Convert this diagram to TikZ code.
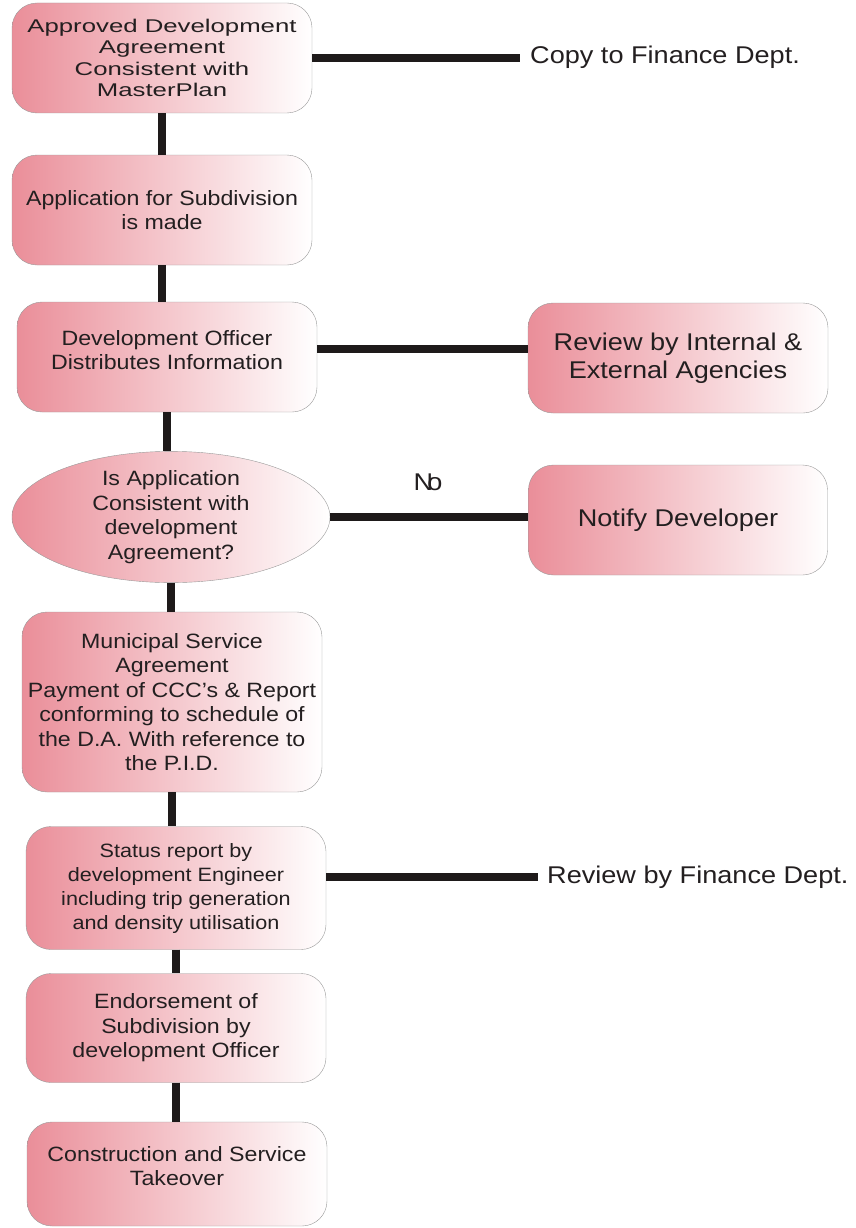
\documentclass[tikz,border=0pt]{standalone}
\usepackage{fontspec}
\setmainfont[FakeStretch=1.12]{Liberation Sans}
\newfontfamily\widefont[FakeStretch=1.4]{Liberation Sans}
\usepackage{tikz}
\usetikzlibrary{shapes.geometric}

\definecolor{stagepink}{RGB}{234,142,153}
\definecolor{linkdark}{RGB}{30,26,26}
\definecolor{textdark}{RGB}{35,31,32}

\tikzset{
    stage/.style={draw=gray!80, rounded corners=25pt, left color=stagepink, right color=white,
        minimum width=300pt, minimum height=110pt, inner sep=0pt, align=center,
        text=textdark, font=\fontsize{20.7}{24.5}\selectfont},
    query/.style={stage, ellipse, rounded corners=0pt, minimum width=318pt, minimum height=105pt},
    link/.style={draw=linkdark, line width=8pt},
    sidenote/.style={anchor=west, inner sep=0pt, text=textdark, font=\fontsize{24.2}{28}\selectfont}
}

\begin{document}
\begin{tikzpicture}[x=1pt,y=-1pt]
        \useasboundingbox (0,0) rectangle (855,1228);
        % main column
        \node[stage, font=\widefont\fontsize{18.4}{21.5}\selectfont] (b1) at (162,58)
            {Approved Development\\Agreement\\Consistent with\\MasterPlan};
        \node[stage] (b2) at (162,210) {Application for Subdivision\\is made};
        \node[stage] (b3) at (167,357) {Development Officer\\Distributes Information\\[-10.5pt]\mbox{}};
        \node[query] (ell) at (171,517) {Is Application\\Consistent with\\development\\Agreement?};
        \node[stage, minimum height=180pt] (mun) at (172,702)
            {Municipal Service\\Agreement\\Payment of CCC’s \& Report\\conforming to schedule of\\the D.A. With reference to\\the P.I.D.};
        \node[stage, minimum height=123pt, font=\fontsize{19.3}{24}\selectfont] (stat) at (176,888)
            {Status report by\\development Engineer\\including trip generation\\and density utilisation};
        \node[stage, minimum height=109pt] (endo) at (176,1028)
            {Endorsement of\\Subdivision by\\development Officer};
        \node[stage, minimum height=104pt] (cons) at (177,1174)
            {Construction and Service\\Takeover\\[-8.5pt]\mbox{}};

        % side column
        \node[sidenote] (copy) at (530,57) {Copy to Finance Dept.};
        \node[stage, font=\fontsize{24.2}{28}\selectfont] (rev) at (678,358)
            {Review by Internal \&\\External Agencies};
        \node[stage, minimum width=299pt, font=\fontsize{24.2}{28}\selectfont] (notify) at (678,520)
            {Notify Developer};
        \node[sidenote] (fin) at (547,877) {Review by Finance Dept.};

        % connectors
        \foreach \a/\b in {b1/b2, b2/b3, b3/ell, ell/mun, mun/stat, stat/endo, endo/cons} {
            \draw[link] (\a.south) -- (\a.south |- \b.north);
        }
        \draw[link, shorten >=10pt] (b1.east) -- (b1.east -| copy.west);
        \draw[link] ([yshift=8pt]b3.east) -- ([yshift=8pt]b3.east -| rev.west);
        \draw[link] (ell.east) -- (ell.east -| notify.west);
        \draw[link, shorten >=9pt] (stat.east |- fin.west) -- (fin.west);
        \node[text=textdark, font=\fontsize{24.2}{28}\selectfont] (no) at (428,482) {N\kern-6pt o};
    \end{tikzpicture}
\end{document}
